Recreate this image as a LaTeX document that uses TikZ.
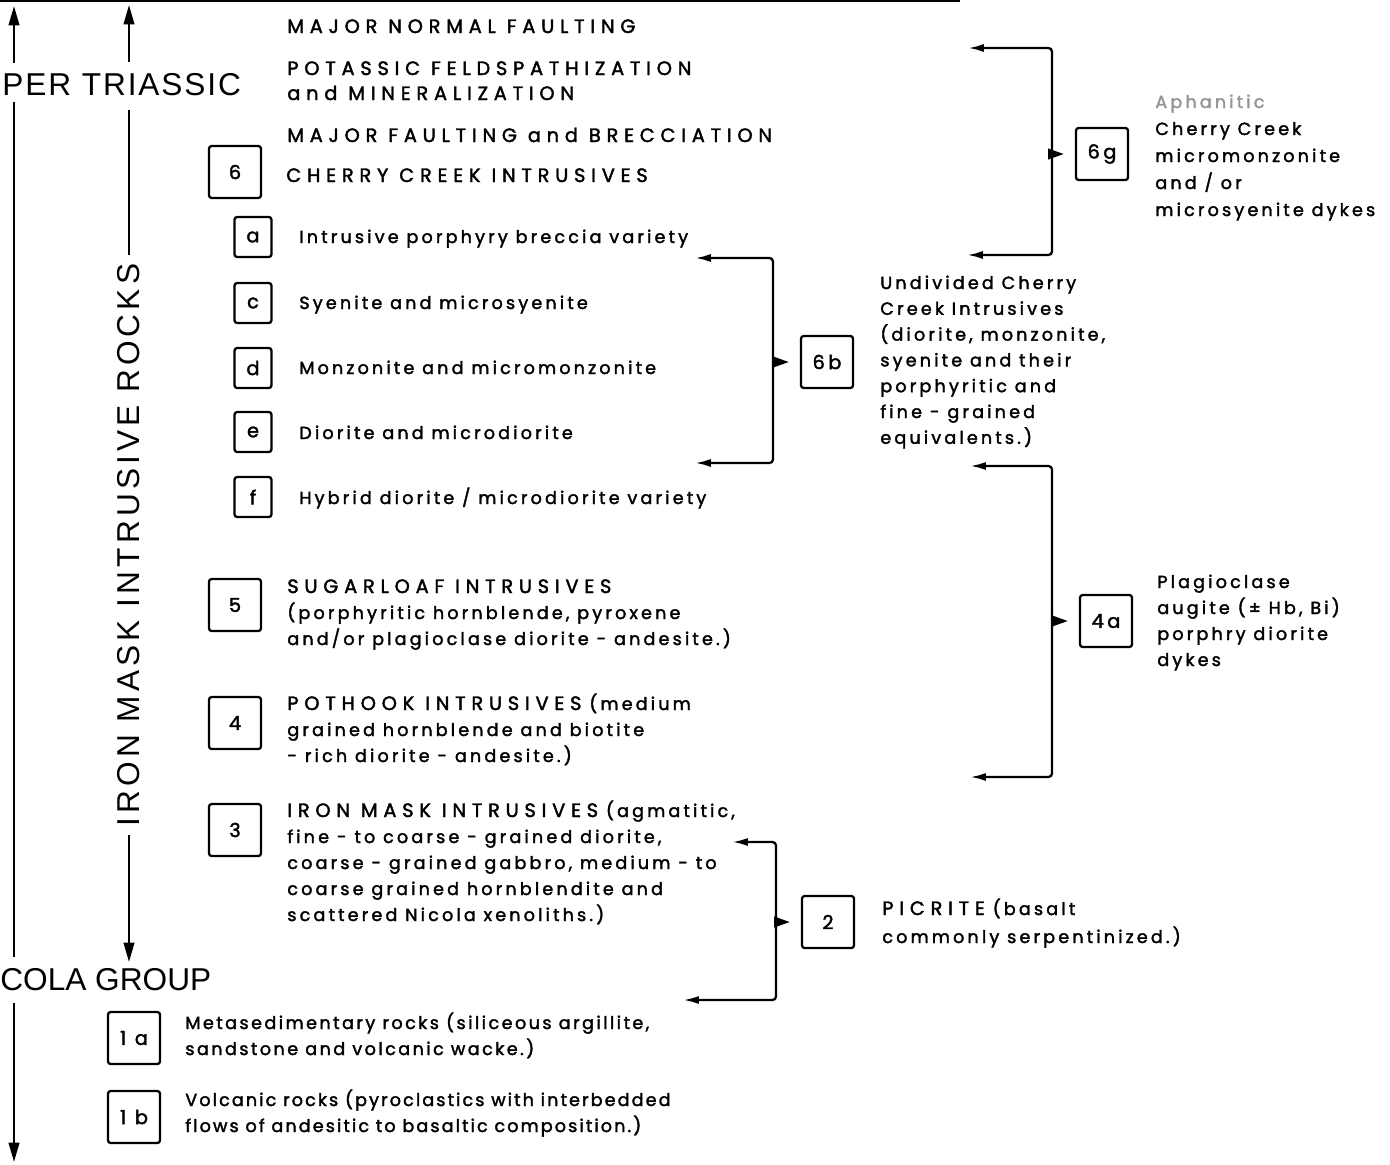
\documentclass[tikz,border=0pt]{standalone}
\usepackage{fontspec}
\usetikzlibrary{arrows.meta,positioning}
\setmainfont{Poppins}
\newfontfamily\bigfont[LetterSpace=10]{Liberation Sans}
\newfontfamily\capfont[LetterSpace=30,FakeBold=2]{Poppins}
\newfontfamily\lowfont[LetterSpace=18,FakeBold=2]{Poppins}
\newcommand\cp[1]{{\capfont\fontsize{11}{12}\selectfont #1}}
\definecolor{inkgray}{RGB}{150,150,150}

\tikzset{
  unitbox/.style={draw, line width=1.3pt, rounded corners=1.5pt, inner sep=0pt, font=\lowfont\fontsize{11}{13}\selectfont},
  bigbox/.style={unitbox, minimum width=1.04cm, minimum height=1.04cm},
  smallbox/.style={unitbox, minimum width=0.74cm, minimum height=0.8cm},
  captext/.style={anchor=base west, inner sep=0pt, font=\capfont\fontsize{11}{12}\selectfont},
  lowtext/.style={anchor=base west, inner sep=0pt, font=\lowfont\fontsize{10}{12}\selectfont},
  eratext/.style={inner sep=0pt, font=\bigfont\fontsize{18}{20}\selectfont},
  timeline/.style={line width=1.3pt},
  uparrow/.style={timeline, -{Triangle[length=11pt,width=6pt]}},
  bracket/.style={line width=1.3pt, rounded corners=2pt, {Latex[length=9pt,width=4.5pt]}-{Latex[length=9pt,width=4.5pt]}},
  pointer/.style={line width=1.3pt, -{Triangle[length=9pt,width=6pt]}, shorten >=0.22cm},
}

\begin{document}
\begin{tikzpicture}[x=0.02cm, y=-0.02cm]
\useasboundingbox (0,0) rectangle (1390,1164);
% scan edge
\draw[line width=0.8pt] (0,1) -- (960,1);

% Era labels and time arrows
\node[eratext, anchor=base west] (triassic) at (2,95) {\addfontfeature{LetterSpace=6}PER TRIASSIC};
\node[eratext, anchor=base west] (nicola) at (0,990) {\addfontfeature{LetterSpace=0}COLA GROUP};
\node[eratext, rotate=90, inner sep=5pt] (ironmask) at (129,545) {\addfontfeature{LetterSpace=13}IRON MASK INTRUSIVE ROCKS};
\draw[uparrow] (14,63) -- (14,6);
\draw[timeline] (14,102) -- (14,957);
\draw[uparrow] (14,1003) -- (14,1162);
\draw[uparrow] (129,62) -- (129,5);
\draw[timeline] (129,110) -- (ironmask.east);
\draw[uparrow] (ironmask.west) -- (129,962);

% Events at the top
\node[captext] (normal) at (287,33) {MAJOR NORMAL FAULTING};
\node[captext] (potassic) at (287,75) {POTASSIC FELDSPATHIZATION};
\node[captext] (mineral) at (287,100) {and MINERALIZATION};
\node[captext] (breccia) at (287,142) {MAJOR FAULTING and BRECCIATION};

% Unit 6 and its varieties
\node[bigbox] (u6) at (235,172) {6};
\node[captext] (t6) at (286,182) {CHERRY CREEK INTRUSIVES};
\node[smallbox] (u6a) at (253,237) {a};
\node[smallbox] (u6c) at (253,303) {c};
\node[smallbox] (u6d) at (253,368) {d};
\node[smallbox] (u6e) at (253,432) {e};
\node[smallbox] (u6f) at (253,497) {f};
\node[lowtext] (t6a) at (299,243) {Intrusive porphyry breccia variety};
\node[lowtext] (t6c) at (299,309) {Syenite and microsyenite};
\node[lowtext] (t6d) at (299,374) {Monzonite and micromonzonite};
\node[lowtext] (t6e) at (299,439) {Diorite and microdiorite};
\node[lowtext] (t6f) at (299,504) {Hybrid diorite / microdiorite variety};

% Units 5, 4, 3
\node[bigbox] (u5) at (235,605) {5};
\foreach \l [count=\i from 0] in {\cp{SUGARLOAF INTRUSIVES}, {(porphyritic hornblende, pyroxene}, and/or plagioclase diorite - andesite.)}
  \node[lowtext] (t5\i) at (287,593+26*\i) {\l};
\node[bigbox] (u4) at (235,723) {4};
\foreach \l [count=\i from 0] in {\cp{POTHOOK INTRUSIVES} (medium, grained hornblende and biotite, - rich diorite - andesite.)}
  \node[lowtext] (t4\i) at (287,710+26*\i) {\l};
\node[bigbox] (u3) at (235,830) {3};
\foreach \l [count=\i from 0] in {{\cp{IRON MASK INTRUSIVES} (agmatitic,}, {fine - to coarse - grained diorite,}, {coarse - grained gabbro, medium - to}, coarse grained hornblendite and, scattered Nicola xenoliths.)}
  \node[lowtext] (t3\i) at (287,817+26*\i) {\l};

% Nicola Group units
\node[bigbox] (u1a) at (134,1038) {1 a};
\node[lowtext] (t1a0) at (185,1029) {\addfontfeature{LetterSpace=14}Metasedimentary rocks (siliceous argillite,};
\node[lowtext] (t1a1) at (185,1055) {\addfontfeature{LetterSpace=14}sandstone and volcanic wacke.)};
\node[bigbox] (u1b) at (134,1117) {1 b};
\node[lowtext] (t1b0) at (185,1106) {\addfontfeature{LetterSpace=12}Volcanic rocks (pyroclastics with interbedded};
\node[lowtext] (t1b1) at (185,1132) {\addfontfeature{LetterSpace=12}flows of andesitic to basaltic composition.)};

% Dyke units on the right
\node[bigbox] (u6g) at (1102,154) {6g};
\node[lowtext, text=inkgray] (t6g0) at (1155,108) {Aphanitic};
\foreach \l [count=\i from 1] in {Cherry Creek, micromonzonite, and / or, microsyenite dykes}
  \node[lowtext] (t6g\i) at (1155,108+27*\i) {\l};
\node[bigbox] (u6b) at (827,362) {6b};
\foreach \l [count=\i from 0] in {Undivided Cherry, Creek Intrusives, {(diorite, monzonite,}, syenite and their, porphyritic and, fine - grained, equivalents.)}
  \node[lowtext] (t6b\i) at (880,289+25.8*\i) {\l};
\node[bigbox] (u4a) at (1106,621) {4a};
\foreach \l [count=\i from 0] in {Plagioclase, {augite (± Hb, Bi)}, porphry diorite, dykes}
  \node[lowtext] (t4a\i) at (1157,588+26*\i) {\l};
\node[bigbox] (u2) at (828,922) {2};
\node[lowtext] (t20) at (882,915) {\cp{PICRITE} (basalt};
\node[lowtext] (t21) at (882,943) {commonly serpentinized.)};

% Brackets
\coordinate (g1) at (968,48);  \coordinate (g2) at (1052,48);
\coordinate (g3) at (1052,255); \coordinate (g4) at (967,255);
\coordinate (gm) at (1052,154);
\draw[bracket] (g1) -- (g2) -- (g3) -- (g4);
\draw[pointer] (gm) -- (u6g.west);

\coordinate (b1) at (695,258); \coordinate (b2) at (773,258);
\coordinate (b3) at (773,463); \coordinate (b4) at (695,463);
\coordinate (bm) at (773,362);
\draw[bracket] (b1) -- (b2) -- (b3) -- (b4);
\draw[pointer] (bm) -- (u6b.west);

\coordinate (d1) at (970,466); \coordinate (d2) at (1052,466);
\coordinate (d3) at (1052,777); \coordinate (d4) at (970,777);
\coordinate (dm) at (1052,621);
\draw[bracket] (d1) -- (d2) -- (d3) -- (d4);
\draw[pointer] (dm) -- (u4a.west);

\coordinate (p1) at (732,842); \coordinate (p2) at (776,842);
\coordinate (p3) at (776,1000); \coordinate (p4) at (683,1000);
\coordinate (pm) at (776,922);
\draw[bracket] (p1) -- (p2) -- (p3) -- (p4);
\draw[pointer] (pm) -- (u2.west);
\end{tikzpicture}
\end{document}
